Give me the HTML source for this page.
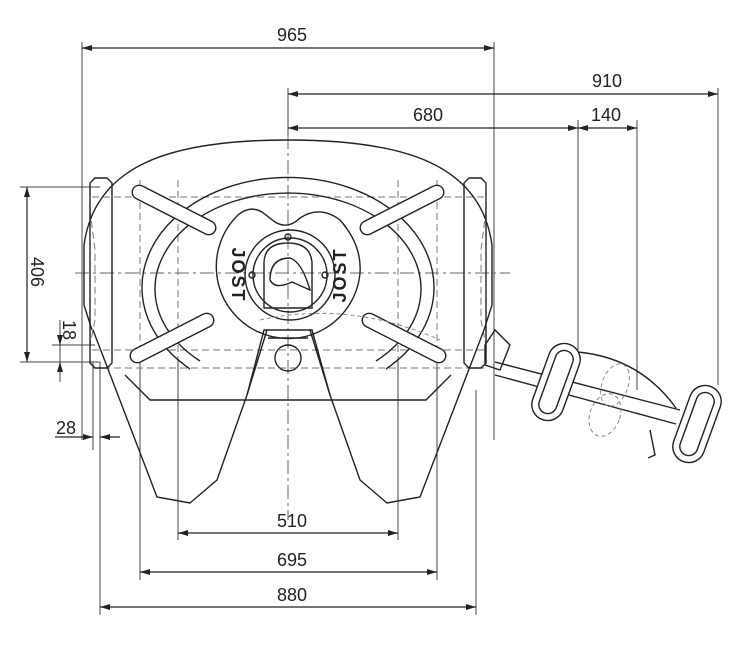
<!DOCTYPE html>
<html><head><meta charset="utf-8"><style>
html,body{margin:0;padding:0;background:#fff}
svg{display:block}
text{font-family:"Liberation Sans",Arial,sans-serif;font-size:18px;fill:#222}
</style></head><body>
<svg width="748" height="654" viewBox="0 0 748 654" xmlns="http://www.w3.org/2000/svg">
<defs>
<marker id="a" markerWidth="10" markerHeight="6" refX="10" refY="3" orient="auto-start-reverse" markerUnits="userSpaceOnUse"><path d="M0,0 L10,3 L0,6 z" fill="#222"/></marker>
</defs>
<g stroke="#444" stroke-width="1" fill="none">
<line x1="82" y1="42" x2="82" y2="440"/>
<line x1="494" y1="42" x2="494" y2="440"/>
<line x1="288" y1="88" x2="288" y2="135"/>
<line x1="718" y1="88" x2="718" y2="385"/>
<line x1="578" y1="120" x2="578" y2="350"/>
<line x1="637" y1="120" x2="637" y2="390"/>
<line x1="20" y1="187" x2="100" y2="187"/>
<line x1="20" y1="362" x2="100" y2="362"/>
<line x1="52" y1="345" x2="95" y2="345"/>
<line x1="60" y1="320" x2="60" y2="382"/>
<line x1="100" y1="362" x2="100" y2="615"/>
<line x1="93" y1="362" x2="93" y2="450"/>
<line x1="476" y1="390" x2="476" y2="615"/>
<line x1="140" y1="360" x2="140" y2="580"/>
<line x1="437" y1="360" x2="437" y2="580"/>
<line x1="178" y1="360" x2="178" y2="540"/>
<line x1="398" y1="360" x2="398" y2="540"/>
</g>
<g stroke="#222" stroke-width="1.2" fill="none">
<line x1="82" y1="48" x2="494" y2="48" marker-start="url(#a)" marker-end="url(#a)"/>
<line x1="288" y1="94" x2="718" y2="94" marker-start="url(#a)" marker-end="url(#a)"/>
<line x1="288" y1="128" x2="578" y2="128" marker-start="url(#a)" marker-end="url(#a)"/>
<line x1="578" y1="128" x2="637" y2="128" marker-start="url(#a)" marker-end="url(#a)"/>
<line x1="27" y1="187" x2="27" y2="362" marker-start="url(#a)" marker-end="url(#a)"/>
<line x1="60" y1="335" x2="60" y2="345" marker-end="url(#a)"/>
<line x1="60" y1="372" x2="60" y2="362" marker-end="url(#a)"/>
<line x1="55" y1="437" x2="93" y2="437" marker-end="url(#a)"/>
<line x1="120" y1="437" x2="100" y2="437" marker-end="url(#a)"/>
<line x1="178" y1="533" x2="398" y2="533" marker-start="url(#a)" marker-end="url(#a)"/>
<line x1="140" y1="572" x2="437" y2="572" marker-start="url(#a)" marker-end="url(#a)"/>
<line x1="100" y1="607" x2="476" y2="607" marker-start="url(#a)" marker-end="url(#a)"/>
</g>
<text x="292" y="41" text-anchor="middle">965</text>
<text x="607" y="87" text-anchor="middle">910</text>
<text x="428" y="121" text-anchor="middle">680</text>
<text x="606" y="121" text-anchor="middle">140</text>
<text x="292" y="527" text-anchor="middle">510</text>
<text x="292" y="566" text-anchor="middle">695</text>
<text x="292" y="601" text-anchor="middle">880</text>
<text x="66" y="434" text-anchor="middle">28</text>
<text transform="translate(31,272) rotate(90)" text-anchor="middle">406</text>
<text transform="translate(63,330) rotate(90)" text-anchor="middle" font-size="16">18</text>

<g stroke="#666" stroke-width="1" fill="none" stroke-dasharray="14,4,3,4">
<line x1="288" y1="135" x2="288" y2="520"/>
<line x1="75" y1="273" x2="510" y2="273"/>
</g>
<g stroke="#777" stroke-width="1" fill="none" stroke-dasharray="7,4">
<line x1="92" y1="197" x2="485" y2="197"/>
<line x1="92" y1="350" x2="485" y2="350"/>
<line x1="92" y1="368" x2="485" y2="368"/>
<line x1="140" y1="180" x2="140" y2="360"/>
<line x1="178" y1="180" x2="178" y2="360"/>
<line x1="398" y1="180" x2="398" y2="360"/>
<line x1="437" y1="180" x2="437" y2="360"/>
<path d="M90,210 L95,250 L95,320 L90,345"/>
<path d="M486,210 L481,250 L481,320 L486,345"/>
</g>
<g stroke="#222" stroke-width="1.4" fill="none">
<path d="M95,178 h12 l5,5 v180 l-5,5 h-12 l-5,-5 v-180 z"/>
<path d="M469,178 h12 l5,5 v180 l-5,5 h-12 l-5,-5 v-180 z"/>
<path d="M92,330 L84,305 L84,245 C95,165 170,140 288,140 C406,140 481,165 492,245 L492,305 L484,330"/>
<path d="M93,330 L157,497 L190,503 L217,480 L247,395 L267,330"/>
<path d="M484,330 L420,497 L387,503 L360,480 L330,395 L310,330"/>
<path d="M125,375 L150,400 L426,400 L451,375"/>
<path d="M190,369 A146,110 0 1 1 386,369"/>
<path d="M200,361 A133,96 0 1 1 376,361"/>
<path d="M238,215 Q250,205 262,212 L275,222 Q288,230 300,218 Q320,205 340,220 Q362,245 360,273 A72,72 0 1 1 238,215 z"/>
<circle cx="290" cy="275" r="45"/>
<circle cx="290" cy="275" r="37"/>
<circle cx="288" cy="237" r="3"/>
<circle cx="252" cy="275" r="3"/>
<circle cx="325" cy="275" r="3"/>
<path d="M264,308 L264,262 Q265,243 288,243 Q310,243 312,262 L312,308 z"/>
<path d="M270,280 Q270,258 290,258 Q302,262 310,290 L292,282 Q275,290 270,280"/>
<path d="M247,395 L264,330 L312,330 L330,395"/>
<circle cx="288" cy="358" r="13"/>
<path d="M268,338 L308,338"/>
</g>
<g stroke="#222" stroke-width="1.4" fill="#fff">
<g transform="translate(174,210) rotate(27)"><rect x="-46" y="-7" width="92" height="14" rx="7"/></g>
<g transform="translate(172,338) rotate(-27)"><rect x="-46" y="-7" width="92" height="14" rx="7"/></g>
<g transform="translate(402,210) rotate(-27)"><rect x="-46" y="-7" width="92" height="14" rx="7"/></g>
<g transform="translate(404,338) rotate(27)"><rect x="-46" y="-7" width="92" height="14" rx="7"/></g>
</g>
<g font-size="15" font-weight="bold">
<text transform="translate(232,275) rotate(90)" text-anchor="middle" letter-spacing="2">JOST</text>
<text transform="translate(346,275) rotate(-90)" text-anchor="middle" letter-spacing="2">JOST</text>
</g>
<g stroke="#222" stroke-width="1.4" fill="none">
<path d="M485,345 L495,330 L510,345 L500,370 L485,365 z"/>
<path d="M495,362 L680,410 M495,375 L676,424"/>
<path d="M578,352 Q640,358 676,408"/>
<g transform="translate(556,382) rotate(20)" fill="#fff"><rect x="-16" y="-40" width="32" height="80" rx="16"/><rect x="-9" y="-33" width="18" height="66" rx="9"/></g>
<g transform="translate(697,424) rotate(20)" fill="#fff"><rect x="-16" y="-40" width="32" height="80" rx="16"/><rect x="-9" y="-33" width="18" height="66" rx="9"/></g>
<path d="M650,430 L655,455 L648,458"/>
</g>
<g stroke="#888" stroke-width="1" fill="none" stroke-dasharray="4,3">
<ellipse cx="615" cy="385" rx="13" ry="22" transform="rotate(20 615 385)"/>
<ellipse cx="605" cy="415" rx="15" ry="22" transform="rotate(20 605 415)"/>
<path d="M260,320 Q350,300 440,340"/>
</g>
</svg>
</body></html>
